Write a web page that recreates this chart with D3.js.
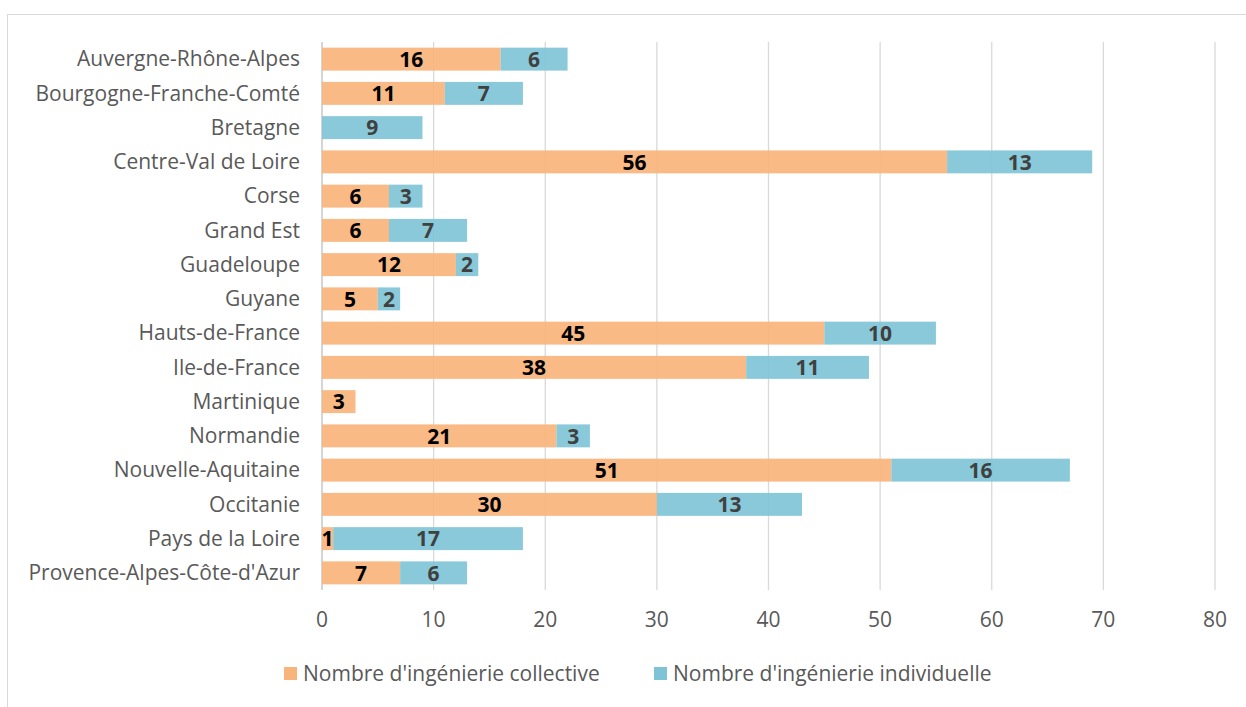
<!DOCTYPE html>
<html>
<head>
<meta charset="utf-8">
<script src="https://cdn.jsdelivr.net/npm/d3@7"></script>
<style>
  body { margin: 0; background: #fff; }
  svg text { font-family: "Open Sans", sans-serif; }
</style>
</head>
<body>
<div class="chart"></div>
<script>
const regions = ["Auvergne-Rhône-Alpes", "Bourgogne-Franche-Comté", "Bretagne", "Centre-Val de Loire", "Corse", "Grand Est", "Guadeloupe", "Guyane", "Hauts-de-France", "Ile-de-France", "Martinique", "Normandie", "Nouvelle-Aquitaine", "Occitanie", "Pays de la Loire", "Provence-Alpes-Côte-d'Azur"]
const collective = [16, 11, 0, 56, 6, 6, 12, 5, 45, 38, 3, 21, 51, 30, 1, 7]
const individuelle = [6, 7, 9, 13, 3, 7, 2, 2, 10, 11, 0, 3, 16, 13, 17, 6]
const xTicks = [0, 10, 20, 30, 40, 50, 60, 70, 80]
const seriesNames = ["Nombre d'ingénierie collective", "Nombre d'ingénierie individuelle"]

const width = 1246, height = 707
const margin = {top: 42, right: 31, bottom: 117, left: 322}
const colors = ["#f8b47b", "#7fc4d6"]
const labelColors = ["#000000", "#404040"]

const svg = d3.select(".chart").append("svg")
  .attr("width", width)
  .attr("height", height)

// outer chart border
svg.append("rect")
  .attr("x", 7.5).attr("y", 14.5)
  .attr("width", width).attr("height", height)
  .attr("fill", "none").attr("stroke", "#d9d9d9")

const xScale = d3.scaleLinear().domain([0, 80]).range([margin.left, width - margin.right])
const yScale = d3.scaleBand().domain(regions).range([margin.top, height - margin.bottom]).paddingInner(0.33).paddingOuter(0.165)

// gridlines
svg.append("g")
  .selectAll("line")
  .data(xTicks)
  .join("line")
  .attr("x1", d => xScale(d)).attr("x2", d => xScale(d))
  .attr("y1", margin.top).attr("y2", height - margin.bottom)
  .attr("stroke", d => d === 0 ? "#bfbfbf" : "#d9d9d9")
  .attr("stroke-width", 1.3)

// x tick labels
svg.append("g")
  .selectAll("text")
  .data(xTicks)
  .join("text")
  .attr("x", d => xScale(d))
  .attr("y", height - margin.bottom + 37)
  .attr("text-anchor", "middle")
  .attr("fill", "#595959")
  .attr("font-size", 21)
  .text(d => d)

// category labels
svg.append("g")
  .selectAll("text")
  .data(regions)
  .join("text")
  .attr("x", margin.left - 22)
  .attr("y", d => yScale(d) + yScale.bandwidth() / 2)
  .attr("dy", "0.35em")
  .attr("text-anchor", "end")
  .attr("fill", "#595959")
  .attr("font-size", 21)
  .text(d => d)

const rows = regions.map((r, i) => ({region: r, values: [collective[i], individuelle[i]]}))

rows.forEach(row => {
  let start = 0
  row.values.forEach((v, k) => {
    if (v > 0) {
      svg.append("rect")
        .attr("x", xScale(start))
        .attr("y", yScale(row.region))
        .attr("width", xScale(start + v) - xScale(start))
        .attr("height", yScale.bandwidth())
        .attr("fill", colors[k])
        .attr("fill-opacity", 0.92)

      svg.append("text")
        .attr("x", (xScale(start) + xScale(start + v)) / 2)
        .attr("y", yScale(row.region) + yScale.bandwidth() / 2)
        .attr("dy", "0.37em")
        .attr("text-anchor", "middle")
        .attr("fill", labelColors[k])
        .attr("font-size", 21)
        .attr("font-weight", "bold")
        .text(v)
    }
    start += v
  })
})

// legend
const legendX = [284, 654]
const legend = svg.append("g")
seriesNames.forEach((name, k) => {
  legend.append("rect")
    .attr("x", legendX[k]).attr("y", 667)
    .attr("width", 13).attr("height", 13)
    .attr("fill", colors[k])
  legend.append("text")
    .attr("x", legendX[k] + 19).attr("y", 674)
    .attr("dy", "0.35em")
    .attr("fill", "#595959")
    .attr("font-size", 21)
    .text(name)
})
</script>
</body>
</html>
